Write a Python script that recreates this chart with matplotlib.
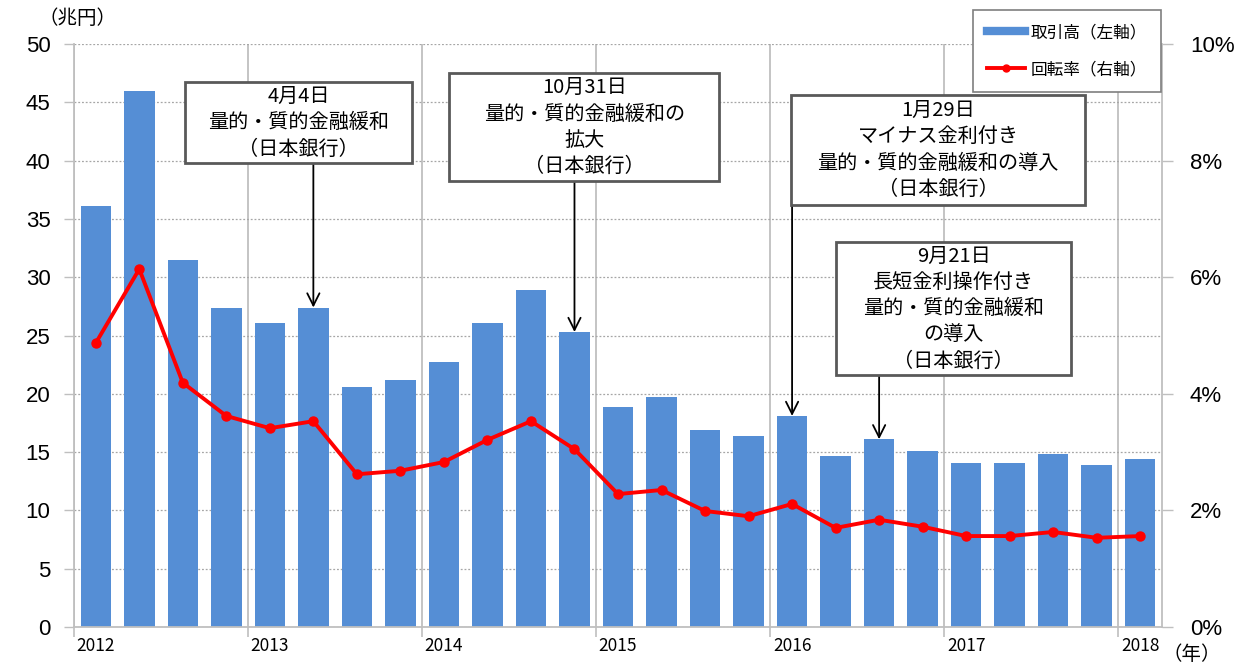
import numpy as np
import matplotlib.pyplot as plt
from matplotlib.lines import Line2D
from matplotlib.patches import Rectangle

plt.rcParams['font.family'] = ['Noto Sans CJK JP', 'DejaVu Sans']

# quarterly data, 2012Q1 - 2018Q1
volume = [36.1, 46.0, 31.5, 27.4, 26.1, 27.4, 20.6, 21.2, 22.7, 26.1, 28.9, 25.3,
          18.9, 19.7, 16.9, 16.4, 18.1, 14.7, 16.1, 15.1, 14.1, 14.1, 14.8, 13.9, 14.4]
turnover = [4.87, 6.14, 4.19, 3.62, 3.41, 3.53, 2.62, 2.68, 2.83, 3.21, 3.53, 3.05,
            2.28, 2.35, 1.99, 1.90, 2.11, 1.70, 1.84, 1.72, 1.56, 1.56, 1.63, 1.53, 1.56]
years = ['2012', '2013', '2014', '2015', '2016', '2017', '2018']

# annotations: (bar index, text)
notes = [
    (5, '4月4日\n量的・質的金融緩和\n（日本銀行）'),
    (11, '10月31日\n量的・質的金融緩和の\n拡大\n（日本銀行）'),
    (16, '1月29日\nマイナス金利付き\n量的・質的金融緩和の導入\n（日本銀行）'),
    (18, '9月21日\n長短金利操作付き\n量的・質的金融緩和\nの導入\n（日本銀行）'),
]
# box extents in data coords: x0, x1, y0, y1 (left axis units)
boxes = [(2.05, 7.27, 39.8, 46.7), (8.12, 14.33, 38.25, 47.5),
         (15.97, 22.74, 36.2, 45.6), (17.02, 22.40, 21.6, 33.0)]
arrow_x = [5.0, 11.0, 16.0, 18.0]

bar_color = '#558ED5'
grid_color = '#BFBFBF'
x = np.arange(len(volume))

fig = plt.figure(figsize=(12.35, 6.66), dpi=100)
ax = fig.add_axes([74 / 1235, 1 - 627 / 666, (1162 - 74) / 1235, (627 - 44) / 666])

ax.bar(x, volume, width=0.7, color=bar_color, zorder=2)
ax.set_xlim(-0.5, len(volume) - 0.5)
ax.set_ylim(0, 50)
ax.set_yticks(np.arange(0, 51, 5))
ax.yaxis.grid(True, linestyle=(0, (1.5, 1.5)), color='#A6A6A6', linewidth=0.9, zorder=0)

ax.set_xticks(np.arange(-0.5, len(volume), 4))
ax.set_xticklabels([])
ax.set_xticks(np.arange(0, len(volume), 4), minor=True)
ax.set_xticklabels(years, minor=True, fontsize=12.5)
ax.tick_params(axis='x', which='minor', length=0, pad=7)
ax.tick_params(axis='x', which='major', length=7, color=grid_color, width=1.2)
ax.xaxis.grid(True, which='major', color=grid_color, linewidth=1.3, zorder=0)
ax.tick_params(axis='y', length=7, color=grid_color, width=1.0, pad=10)
for lab in ax.get_yticklabels():
    lab.set_fontfamily('Liberation Sans')
    lab.set_fontsize(16)
for s in ['top', 'right']:
    ax.spines[s].set_visible(False)
for s in ['left', 'bottom']:
    ax.spines[s].set_color(grid_color)
    ax.spines[s].set_linewidth(1.3)
ax.set_axisbelow(True)

ax2 = ax.twinx()
ax2.plot(x, turnover, color='#FF0000', linewidth=2.8, marker='o', markersize=6.5, zorder=3)
ax2.set_ylim(0, 10)
ax2.set_yticks(np.arange(0, 11, 2))
ax2.set_yticklabels([f'{v}%' for v in range(0, 11, 2)])
ax2.tick_params(axis='y', length=8, color=grid_color, width=1.0, pad=12)
for lab in ax2.get_yticklabels():
    lab.set_fontfamily('Liberation Sans')
    lab.set_fontsize(16)
for s in ['top', 'left', 'bottom']:
    ax2.spines[s].set_visible(False)
ax2.spines['right'].set_color(grid_color)
ax2.spines['right'].set_linewidth(1.3)

# annotation boxes and arrows (drawn on twin axes, left-axis units / 5)
for (i, txt), (x0, x1, y0, y1), ax_x in zip(notes, boxes, arrow_x):
    ax2.add_patch(Rectangle((x0, y0 / 5), x1 - x0, (y1 - y0) / 5, facecolor='white',
                            edgecolor='#595959', linewidth=2.0, zorder=5))
    ax2.text((x0 + x1) / 2, (y0 + y1) / 10, txt, ha='center', va='center',
             fontsize=14.5, linespacing=1.33, zorder=6)
    ax2.annotate('', xy=(ax_x, volume[i] / 5), xytext=(ax_x, y0 / 5),
                 arrowprops=dict(arrowstyle='->', color='black', lw=1.3,
                                 mutation_scale=22, shrinkA=0, shrinkB=0), zorder=4)

handles = [Line2D([], [], color=bar_color, linewidth=6),
           Line2D([], [], color='#FF0000', linewidth=2.8, marker='o', markersize=5)]
leg = ax2.legend(handles, ['取引高（左軸）', '回転率（右軸）'], loc='upper right',
                 bbox_to_anchor=(1161 / 1235, 1 - 10 / 666), bbox_transform=fig.transFigure,
                 fontsize=12, fancybox=False, framealpha=1, edgecolor='#7F7F7F',
                 borderpad=0.85, labelspacing=1.2, handlelength=2.3, handletextpad=0.3,
                 borderaxespad=0)
leg.get_frame().set_linewidth(1.2)
leg.set_zorder(10)

fig.text(38 / 1235, 1 - 18 / 666, '（兆円）', fontsize=14, ha='left', va='center')
fig.text(1192 / 1235, 1 - 654 / 666, '（年）', fontsize=14, ha='center', va='center')

fig.savefig('out.png', dpi=100)
